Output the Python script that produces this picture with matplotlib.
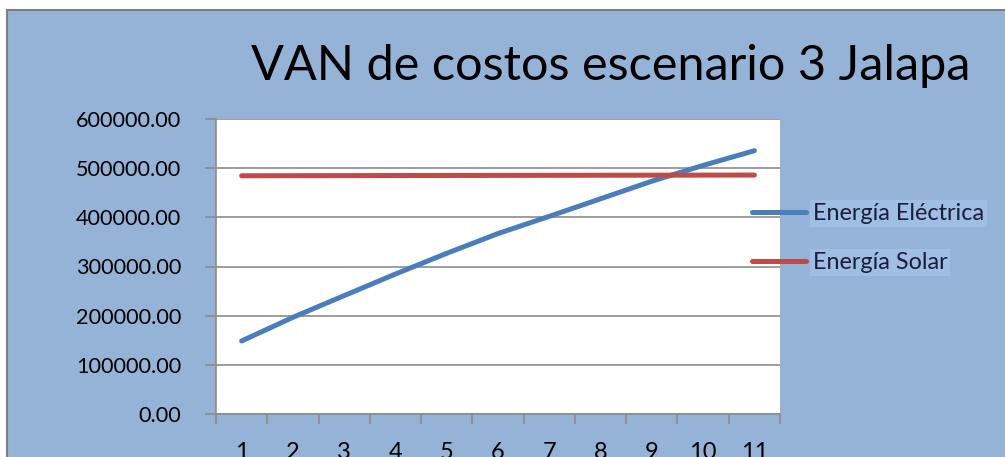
import matplotlib
matplotlib.use("Agg")
import matplotlib.pyplot as plt
from matplotlib.patches import Rectangle

# Data
years = [1, 2, 3, 4, 5, 6, 7, 8, 9, 10, 11]
energia_electrica = [148500, 196600, 240800, 284700, 326800, 367000,
                     402000, 437700, 473500, 505600, 535500]
energia_solar = [484500, 484700, 484800, 485000, 485100, 485300,
                 485400, 485600, 485700, 485900, 486000]
series_names = ["Energía Eléctrica", "Energía Solar"]
yticks = [0, 100000, 200000, 300000, 400000, 500000, 600000]
title = "VAN de costos escenario 3 Jalapa"

BG = "#95B3D7"
BLUE = "#4A7EBB"
RED = "#BE4B48"
GRID = "#8C8C8C"
FONT = "Lato"

W, H = 1005, 457
fig = plt.figure(figsize=(W / 100, H / 100), dpi=100, facecolor="white")

# Chart area with gray frame
fig.patches.append(Rectangle((7 / W, -0.1), 1.2, 1 - 10 / H + 0.1,
                             transform=fig.transFigure, facecolor=BG,
                             edgecolor="#7F7F7F", linewidth=1.5, zorder=-5))

ax = fig.add_axes([216 / W, 1 - 414 / H, (780 - 216) / W, (414 - 119) / H])
ax.set_zorder(2)
ax.set_facecolor("white")

ax.plot(years, energia_electrica, color=BLUE, linewidth=3.6,
        solid_capstyle="round", solid_joinstyle="round",
        label=series_names[0], zorder=3)
ax.plot(years, energia_solar, color=RED, linewidth=3.6,
        solid_capstyle="round", solid_joinstyle="round",
        label=series_names[1], zorder=3)

ax.set_xlim(0.5, 11.5)
ax.set_ylim(0, 600000)
ax.set_yticks(yticks)
ax.set_yticklabels([f"{v:.2f}" for v in yticks], fontsize=15.6,
                   family=FONT, color="black")
ax.yaxis.grid(True, color=GRID, linewidth=1.2)
ax.set_axisbelow(True)

# Category axis: tick marks between categories, labels at centers
ax.set_xticks([x + 0.5 for x in [0] + years])
ax.set_xticklabels([])
ax.set_xticks(years, minor=True)
ax.set_xticklabels([str(y) for y in years], minor=True, fontsize=17,
                   family=FONT, color="black")
ax.tick_params(axis="x", which="major", direction="out", length=7,
               width=1.2, color=GRID)
ax.tick_params(axis="x", which="minor", length=0, pad=20)
ax.tick_params(axis="y", direction="out", length=8, width=1.2,
               color=GRID, pad=17)

for side in ["top", "right"]:
    ax.spines[side].set_visible(False)
for side in ["left", "bottom"]:
    ax.spines[side].set_color(GRID)
    ax.spines[side].set_linewidth(1.2)

fig.text(611 / W, 1 - 66 / H, title, fontsize=35, family=FONT,
         ha="center", va="center", color="black")

leg = ax.legend(loc="upper left", bbox_to_anchor=(752 / W, 1 - 203 / H),
                bbox_transform=fig.transFigure, frameon=False,
                prop={"family": FONT, "size": 16.8}, handlelength=2.3,
                handletextpad=0.3, labelspacing=1.2, borderpad=0,
                borderaxespad=0)
for txt in leg.get_texts():
    txt.set_color("#1B1B3A")
    txt.set_bbox(dict(facecolor="#9EBEE3", edgecolor="none", pad=2))

fig.savefig("out.png", dpi=100, facecolor="white")
